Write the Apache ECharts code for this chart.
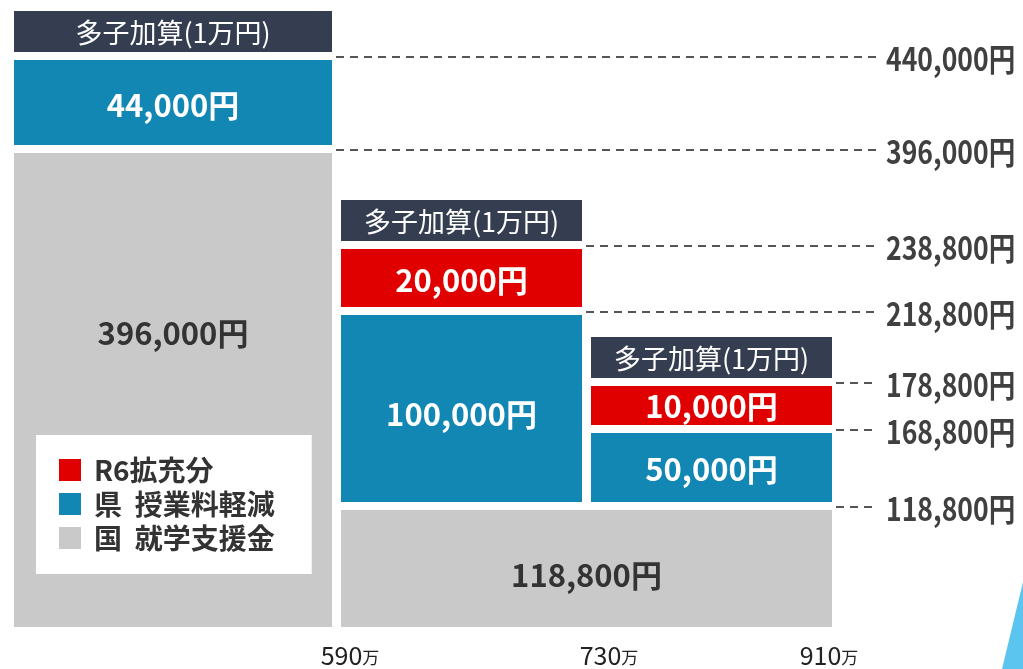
<!DOCTYPE html>
<html>
<head>
<meta charset="utf-8">
<script src="https://cdn.jsdelivr.net/npm/echarts@6/dist/echarts.min.js"></script>
<style>
  html, body { margin: 0; padding: 0; background: #fff; }
  #main { width: 1023px; height: 669px; }
</style>
</head>
<body>
<div id="main"></div>
<script>
// 年収目安（万円）
var incomeTicks = ['590', '730', '910'];
var legendNames = ['R6拡充分', '県  授業料軽減', '国  就学支援金'];
// 国 就学支援金: 590万まで / 590〜910万（共通）
var kuniShien = [396000, 118800];
// 県 授業料軽減, R6拡充分 per column
var kenKeigen = [44000, 100000, 50000];
var r6Kakuju = [0, 20000, 10000];
var tashiLabel = '多子加算(1万円)';

// the picture is a diagram, not to scale: display sizes of the blocks
var colWidth = [318, 241, 241];
var colGap = 9;
var rowGap = 8;
var headHeight = 41;
var kuniHeight = [474, 117];
var kenHeight = [85, 187, 69];
var r6Height = [0, 58, 39];
var kuniSpan = [[0, 0], [1, 2]];
var kuniLabelAt = ['38%', '56%'];
var tickAt = [336, 595, 815];

var colors = { r6: '#e00000', ken: '#1287b3', kuni: '#c9c9c9', head: '#343e50' };
var cjk = '"Noto Sans CJK JP", sans-serif';

var formatYen = function (num) {
  return num.toString().replace(/(?=(\B)(\d{3})+$)/g, ',') + '円';
};

var colX = [];
var x = 0;
colWidth.forEach(function (w) {
  colX.push([x, x + w]);
  x += w + colGap;
});
var xMax = x - colGap;

var kuniData = [], kenData = [], r6Data = [], headData = [], guideData = [];
kuniSpan.forEach(function (s, i) {
  kuniData.push([colX[s[0]][0], colX[s[1]][1], 0, kuniHeight[i], kuniShien[i], i]);
  guideData.push([colX[s[1]][1], kuniHeight[i], kuniShien[i]]);
});
kenKeigen.forEach(function (v, c) {
  var k = c === 0 ? 0 : 1;
  var total = kuniShien[k] + v;
  var y0 = kuniHeight[k] + rowGap;
  var y1 = y0 + kenHeight[c];
  kenData.push([colX[c][0], colX[c][1], y0, y1, v, c]);
  guideData.push([colX[c][1], y1, total]);
  if (r6Kakuju[c] > 0) {
    total += r6Kakuju[c];
    y0 = y1 + rowGap;
    y1 = y0 + r6Height[c];
    r6Data.push([colX[c][0], colX[c][1], y0, y1, r6Kakuju[c], c]);
    guideData.push([colX[c][1], y1, total]);
  }
  headData.push([colX[c][0], colX[c][1], y1 + rowGap, y1 + rowGap + headHeight, 10000, c]);
});

function blockRender(textColor, font, fixedText, labelAt) {
  return function (params, api) {
    var p0 = api.coord([api.value(0), api.value(3)]);
    var p1 = api.coord([api.value(1), api.value(2)]);
    var pos = labelAt ? ['50%', labelAt[api.value(5)]] : ['50%', '53%'];
    return {
      type: 'rect',
      shape: { x: p0[0], y: p0[1], width: p1[0] - p0[0], height: p1[1] - p0[1] },
      style: { fill: api.visual('color') },
      textContent: {
        style: {
          text: fixedText || formatYen(api.value(4)),
          fill: textColor,
          font: font,
          align: 'center',
          verticalAlign: 'middle'
        }
      },
      textConfig: { position: pos }
    };
  };
}

function blockSeries(name, data, color, textColor, font, fixedText, labelAt) {
  return {
    name: name,
    type: 'custom',
    data: data,
    itemStyle: { color: color },
    encode: { x: [0, 1], y: [2, 3] },
    renderItem: blockRender(textColor, font, fixedText, labelAt),
    silent: true
  };
}

var valueFont = 'bold 31px ' + cjk;

var myChart = echarts.init(document.getElementById('main'));
var option = {
  animation: false,
  grid: { left: 14, top: 11, width: xMax, height: 616 },
  xAxis: {
    type: 'value', min: 0, max: xMax,
    axisLine: { show: false }, axisTick: { show: false }, splitLine: { show: false },
    axisLabel: {
      customValues: tickAt,
      margin: 16,
      formatter: function (v) {
        var i = tickAt.indexOf(v);
        return '{n|' + incomeTicks[i] + '}{u|万}';
      },
      rich: {
        n: { fontSize: 25, color: '#222', fontFamily: cjk },
        u: { fontSize: 17, color: '#222', fontFamily: cjk, padding: [5, 0, 0, 0] }
      }
    }
  },
  yAxis: { type: 'value', min: 0, max: 616, show: false },
  legend: {
    data: legendNames,
    orient: 'vertical',
    left: 36, top: 435,
    backgroundColor: '#fff',
    padding: [21, 37, 22, 23],
    itemWidth: 22, itemHeight: 22, itemGap: 6,
    icon: 'rect',
    selectedMode: false,
    textStyle: { fontSize: 28, fontWeight: 'bold', color: '#333', fontFamily: cjk, padding: [0, 0, 0, 8] }
  },
  graphic: [{
    type: 'polygon',
    shape: { points: [[1023, 582], [1023, 669], [1002, 669]] },
    style: { fill: '#5bc4ef' },
    silent: true
  }],
  series: [
    blockSeries(legendNames[0], r6Data, colors.r6, '#fff', valueFont),
    blockSeries(legendNames[1], kenData, colors.ken, '#fff', valueFont),
    blockSeries(legendNames[2], kuniData, colors.kuni, '#333', valueFont, null, kuniLabelAt),
    blockSeries('多子加算', headData, colors.head, '#fff', '27px ' + cjk, tashiLabel),
    {
      name: 'guide',
      type: 'custom',
      data: guideData,
      clip: false,
      silent: true,
      encode: { x: 0, y: 1 },
      renderItem: function (params, api) {
        var p = api.coord([api.value(0), api.value(1)]);
        var y = p[1] - 3;
        return {
          type: 'group',
          children: [{
            type: 'line',
            shape: { x1: p[0] + 4, y1: y, x2: 876, y2: y },
            style: { stroke: '#555', lineWidth: 2, lineDash: [8, 6] }
          }, {
            type: 'text',
            x: 886, y: y + 2,
            scaleX: 0.83,
            style: {
              x: 0, y: 0,
              text: formatYen(api.value(2)),
              fill: '#404040',
              font: 'bold 32px ' + cjk,
              verticalAlign: 'middle'
            }
          }]
        };
      }
    }
  ]
};
option && myChart.setOption(option);

window.addEventListener('resize', function () {
  myChart.resize();
});
</script>
</body>
</html>
